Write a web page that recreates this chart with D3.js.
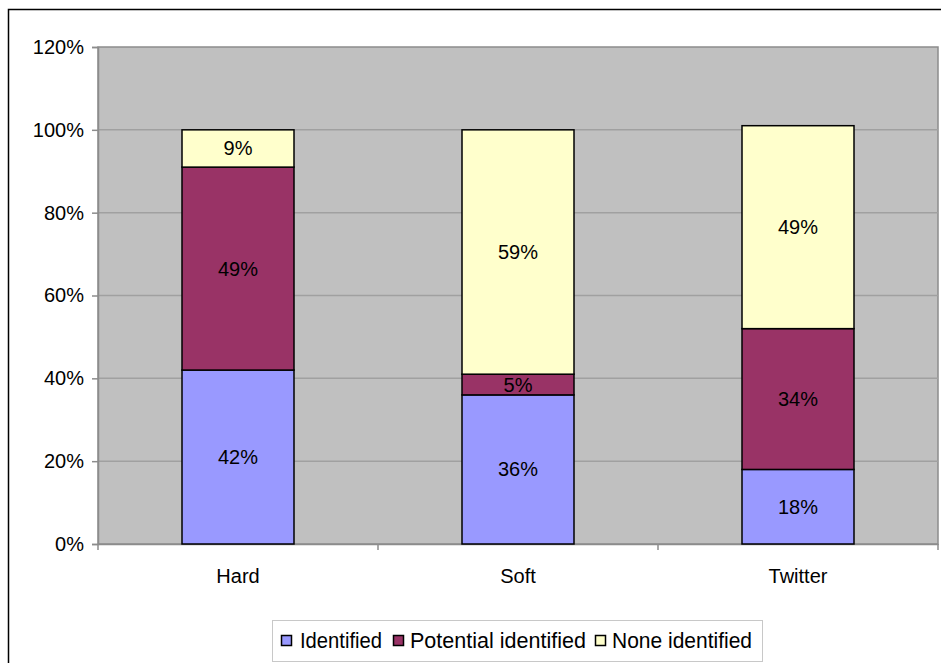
<!DOCTYPE html>
<html>
<head>
<meta charset="utf-8">
<script src="https://cdn.jsdelivr.net/npm/d3@7"></script>
<style>
  body { margin: 0; background: #fff; }
  text { font-family: "Liberation Sans", Arial, sans-serif; fill: #000; }
</style>
</head>
<body>
<div class="chart"></div>
<script>
var categories = ["Hard", "Soft", "Twitter"];
var seriesNames = ["Identified", "Potential identified", "None identified"];
var identified = [42, 36, 18];
var potential = [49, 5, 34];
var noneIdentified = [9, 59, 49];
var yTicks = [0, 20, 40, 60, 80, 100, 120];
var colors = ["#9999ff", "#993366", "#ffffcc"];

var svgWidth = 941, svgHeight = 663;
var plot = { left: 98, top: 47, right: 938, bottom: 544 };

var svg = d3.select(".chart").append("svg")
  .attr("width", svgWidth)
  .attr("height", svgHeight);

// outer frame (runs off the right and bottom)
svg.append("path")
  .attr("d", "M8.5," + svgHeight + " V9.5 H" + svgWidth)
  .attr("fill", "none")
  .attr("stroke", "#000")
  .attr("stroke-width", 1.5);

var x = d3.scaleBand().domain(categories).range([plot.left, plot.right]);
var y = d3.scaleLinear().domain([0, 120]).range([plot.bottom, plot.top]);

// plot area
svg.append("rect")
  .attr("x", plot.left).attr("y", plot.top)
  .attr("width", plot.right - plot.left).attr("height", plot.bottom - plot.top)
  .attr("fill", "#c0c0c0")
  .attr("stroke", "#8c8c8c").attr("stroke-width", 1.5);

// gridlines
svg.append("g").selectAll("line")
  .data(yTicks.slice(1, -1))
  .enter().append("line")
  .attr("x1", plot.left).attr("x2", plot.right)
  .attr("y1", d => y(d)).attr("y2", d => y(d))
  .attr("stroke", "#a0a0a0").attr("stroke-width", 1.5);

// y axis
var yAxis = svg.append("g")
  .attr("transform", "translate(" + plot.left + ",0)")
  .call(d3.axisLeft(y).tickValues(yTicks).tickFormat(d => d + "%").tickSize(6).tickPadding(8));
yAxis.select(".domain").attr("stroke", "#8c8c8c").attr("stroke-width", 1.5);
yAxis.selectAll(".tick line").attr("stroke", "#8c8c8c").attr("stroke-width", 1.5);
yAxis.selectAll("text").style("font-size", "20px").attr("fill", "#000");

// x axis
var xAxis = svg.append("g")
  .attr("transform", "translate(0," + plot.bottom + ")")
  .call(d3.axisBottom(x).tickSize(0).tickPadding(25));
xAxis.select(".domain").attr("stroke", "#8c8c8c").attr("stroke-width", 1.5);
xAxis.selectAll("text").style("font-size", "20px").attr("fill", "#000");
svg.append("g").selectAll("line")
  .data(categories.concat(["end"]))
  .enter().append("line")
  .attr("x1", (d, i) => plot.left + i * x.bandwidth())
  .attr("x2", (d, i) => plot.left + i * x.bandwidth())
  .attr("y1", plot.bottom).attr("y2", plot.bottom + 6)
  .attr("stroke", "#8c8c8c").attr("stroke-width", 1.5);

// stacked bars
var rows = categories.map((c, i) => ({
  cat: c, Identified: identified[i], "Potential identified": potential[i], "None identified": noneIdentified[i]
}));
var stacked = d3.stack().keys(seriesNames)(rows);
var barW = x.bandwidth() * 0.4;

var layers = svg.selectAll(".layer")
  .data(stacked)
  .enter().append("g")
  .attr("class", "layer");

layers.selectAll("rect")
  .data(d => d)
  .enter().append("rect")
  .attr("x", d => x(d.data.cat) + (x.bandwidth() - barW) / 2)
  .attr("y", d => y(d[1]))
  .attr("width", barW)
  .attr("height", d => y(d[0]) - y(d[1]))
  .attr("fill", function() { return colors[d3.select(this.parentNode).datum().index]; })
  .attr("stroke", "#000").attr("stroke-width", 1.5);

layers.selectAll("text")
  .data(d => d)
  .enter().append("text")
  .attr("x", d => x(d.data.cat) + x.bandwidth() / 2)
  .attr("y", d => (y(d[0]) + y(d[1])) / 2)
  .attr("dy", "0.35em")
  .attr("text-anchor", "middle")
  .style("font-size", "20px")
  .text(d => (d[1] - d[0]) + "%");

// legend
var legend = svg.append("g");
legend.append("rect")
  .attr("x", 272.5).attr("y", 620.5).attr("width", 490).attr("height", 41)
  .attr("fill", "#fff").attr("stroke", "#c8c8c8").attr("stroke-width", 1);

var legendX = [281, 393, 595];
var legendTextW = [82, 176, 140];
seriesNames.forEach((name, i) => {
  legend.append("rect")
    .attr("x", legendX[i] + 0.5).attr("y", 635.5).attr("width", 10).attr("height", 10)
    .attr("fill", colors[i]).attr("stroke", "#000").attr("stroke-width", 1.5);
  legend.append("text")
    .attr("x", legendX[i] + (i === 0 ? 19 : 17)).attr("y", 640)
    .attr("dy", "0.35em")
    .attr("textLength", legendTextW[i])
    .attr("lengthAdjust", "spacingAndGlyphs")
    .style("font-size", "22px")
    .text(name);
});
</script>
</body>
</html>
